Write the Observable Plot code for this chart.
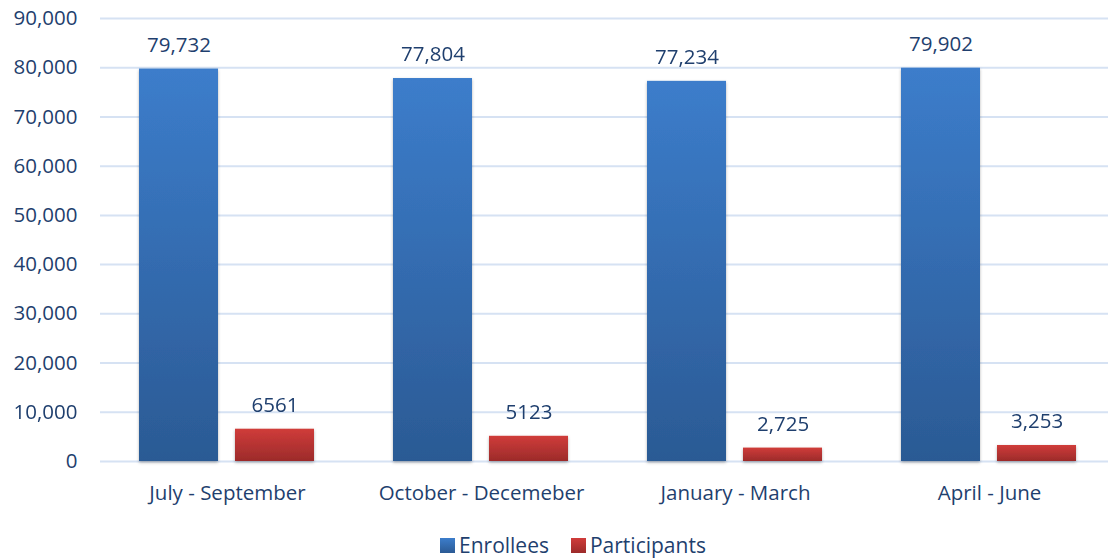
<!DOCTYPE html>
<html>
<head>
<meta charset="utf-8">
<script src="https://cdn.jsdelivr.net/npm/d3@7"></script>
<script src="https://cdn.jsdelivr.net/npm/@observablehq/plot@0.6"></script>
<style>
  html, body { margin: 0; padding: 0; background: #fff; }
  #chart { width: 1108px; }
  #chart svg { display: block; }
  .legend { display: flex; justify-content: flex-start; padding-left: 440px; gap: 22px; font-family: "Open Sans", "Noto Sans", sans-serif; font-size: 21px; line-height: 26px; color: #1f3f6e; margin-top: 12px; white-space: nowrap; }
  .legend span.item { display: flex; align-items: center; gap: 4px; }
  .legend span.sw { display: inline-block; width: 15px; height: 15px; }
</style>
</head>
<body>
<div id="chart"></div>
<script>
const categories = ["July - September", "October - Decemeber", "January - March", "April - June"];
const seriesNames = ["Enrollees", "Participants"];
const enrollees = [79732, 77804, 77234, 79902];
const participants = [6561, 5123, 2725, 3253];
const participantLabels = ["6561", "5123", "2,725", "3,253"];
const enrolleeLabels = ["79,732", "77,804", "77,234", "79,902"];
const yTicks = [0, 10000, 20000, 30000, 40000, 50000, 60000, 70000, 80000, 90000];

const rows = [];
categories.forEach((c, i) => {
  rows.push({cat: c, series: seriesNames[0], value: enrollees[i], label: enrolleeLabels[i]});
  rows.push({cat: c, series: seriesNames[1], value: participants[i], label: participantLabels[i]});
});

const fills = {Enrollees: "url(#gradBlue)", Participants: "url(#gradRed)"};
const textColor = "#1f3f6e";
const font = "'Open Sans', 'Noto Sans', sans-serif";
const fs = 20.5;

const chart = Plot.plot({
  width: 1108,
  height: 520,
  marginTop: 18,
  marginBottom: 59,
  marginLeft: 100,
  marginRight: 3,
  style: {fontFamily: font, fontSize: fs + "px", color: textColor, background: "#fff"},
  fx: {domain: categories, padding: 0, label: null, range: [100, 1116]},
  x: {domain: seriesNames, paddingInner: 0.175, paddingOuter: 0.4, axis: null},
  y: {domain: [0, 90000], ticks: yTicks, label: null},
  marks: [
    Plot.gridY(yTicks, {stroke: "#d6e2f3", strokeOpacity: 1, strokeWidth: 2}),
    Plot.barY(rows, {fx: "cat", x: "series", y: "value", fill: d => fills[d.series]}),
    Plot.text(rows, {fx: "cat", x: "series", y: "value", text: "label", dy: -24, fill: textColor, fontSize: fs}),
    Plot.axisY(yTicks, {tickSize: 0, tickPadding: 23, tickFormat: d3.format(","), fill: textColor, fontSize: fs, label: null}),
    Plot.axisFx({tickSize: 0, tickPadding: 24, fill: textColor, fontSize: fs, label: null, anchor: "bottom"})
  ]
});

const svg = d3.select(chart);
const defs = svg.insert("defs", ":first-child");
const g1 = defs.append("linearGradient").attr("id", "gradBlue").attr("x1", 0).attr("y1", 0).attr("x2", 0).attr("y2", 1);
g1.append("stop").attr("offset", "0%").attr("stop-color", "#3c7dcb");
g1.append("stop").attr("offset", "100%").attr("stop-color", "#2b5a94");
const g2 = defs.append("linearGradient").attr("id", "gradRed").attr("x1", 0).attr("y1", 0).attr("x2", 0).attr("y2", 1);
g2.append("stop").attr("offset", "0%").attr("stop-color", "#d03c3a");
g2.append("stop").attr("offset", "100%").attr("stop-color", "#9c2b2a");
const f = defs.append("filter").attr("id", "shadow").attr("x", "-20%").attr("y", "-20%").attr("width", "140%").attr("height", "140%");
f.append("feDropShadow").attr("dx", 0).attr("dy", 1.5).attr("stdDeviation", 1.5).attr("flood-color", "#000").attr("flood-opacity", 0.3);
svg.selectAll("g[aria-label='bar']").attr("filter", "url(#shadow)");

document.getElementById("chart").appendChild(chart);

const legend = document.createElement("div");
legend.className = "legend";
legend.innerHTML = `
  <span class="item"><span class="sw" style="background:linear-gradient(#3c7dcb,#2b5a94)"></span>${seriesNames[0]}</span>
  <span class="item"><span class="sw" style="background:linear-gradient(#d03c3a,#9c2b2a)"></span>${seriesNames[1]}</span>`;
document.getElementById("chart").appendChild(legend);
</script>
</body>
</html>
